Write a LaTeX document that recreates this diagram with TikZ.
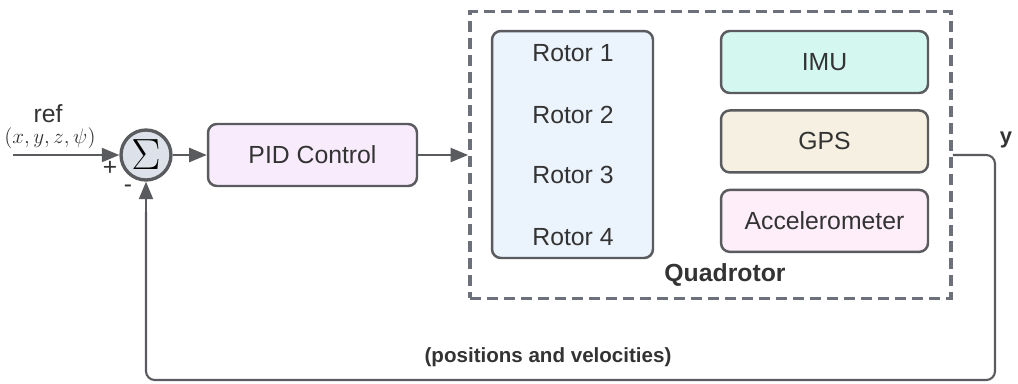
\documentclass[tikz,border=0pt]{standalone}
\usepackage{fontspec}
\setmainfont{Liberation Sans}
\definecolor{lineGray}{HTML}{5A5B5E}
\definecolor{dashGray}{HTML}{6B707A}
\definecolor{txtGray}{HTML}{333333}
\definecolor{pidFill}{HTML}{F8ECFC}
\definecolor{rotorFill}{HTML}{EBF3FD}
\definecolor{imuFill}{HTML}{D4F7EF}
\definecolor{gpsFill}{HTML}{F5F0E1}
\definecolor{accFill}{HTML}{FDEEF9}
\definecolor{sumFill}{HTML}{DDE2EA}
\usetikzlibrary{arrows.meta,positioning,calc}

\begin{document}
\begin{tikzpicture}[x=0.02cm, y=-0.02cm,
  blk/.style={draw=lineGray, line width=1.4pt, rounded corners=5pt, text=txtGray,
               minimum width=4.14cm, minimum height=1.24cm,
               font=\fontsize{14.1}{17}\selectfont},
  lbl/.style={text=txtGray, font=\fontsize{14.1}{17}\selectfont},
  flow/.style={-{Triangle[length=10pt,width=8pt]}, line width=1.2pt, draw=lineGray, fill=lineGray}
]
  \useasboundingbox (0,0) rectangle (1018,383);

  % summing junction and input
  \node[circle, draw=lineGray, line width=1.9pt, fill=sumFill, minimum size=1cm, inner sep=0pt,
        font=\fontsize{30}{30}\selectfont] (sum) at (146,155) {$\Sigma$};
  \coordinate (in) at (13,155);
  \node[lbl] (ref) at (48,114) {ref};
  \node[text=txtGray, font=\fontsize{13}{15}\selectfont] (refvec) at (50,138) {$(x,y,z,\psi)$};
  \node[text=txtGray, font=\fontsize{14}{16}\selectfont] (plus) at (110,168) {+};
  \node[text=txtGray, font=\fontsize{14}{16}\selectfont] (minus) at (128,189) {-};

  % controller
  \node[blk, fill=pidFill, minimum width=4.18cm] (pid) at (312.5,155) {PID Control};

  % plant
  \node[draw=dashGray, line width=2.2pt, dash pattern=on 0.22cm off 0.12cm,
        minimum width=9.62cm, minimum height=5.74cm] (quad) at (710.5,155) {};
  \node[blk, fill=rotorFill, minimum width=3.22cm, minimum height=4.54cm] (rotors) at (572.5,144.5) {};
  \foreach \i/\yy in {1/53, 2/115, 3/175, 4/237}
    \node[lbl] (rotor\i) at (573,\yy) {Rotor \i};
  \node[blk, fill=imuFill] (imu) at (824.5,62) {IMU};
  \node[blk, fill=gpsFill, below=0.3cm of imu] (gps) {GPS};
  \node[blk, fill=accFill, below=0.3cm of gps] (acc) {Accelerometer};
  \node[lbl, font=\fontsize{14.1}{17}\selectfont\bfseries] (quadlbl) at (725,275) {Quadrotor};

  % output and feedback
  \node[text=txtGray, font=\fontsize{12.5}{14}\selectfont\bfseries] (ylbl) at (1006,140) {y};
  \node[text=txtGray, font=\fontsize{11.7}{14}\selectfont\bfseries] (fblbl) at (548,357) {(positions and velocities)};
  \coordinate (outR) at (995,155);
  \coordinate (botR) at (995,380);
  \coordinate (botL) at (146,380);

  \draw[flow] (in) -- (sum);
  \draw[flow] (sum) -- (pid);
  \draw[flow] (pid) -- (quad);
  \draw[line width=1.2pt, draw=lineGray, rounded corners=5pt] (quad.east) -- (outR) -- (botR) -- (botL) -- ($(sum.south)+(0,30)$);
  \draw[flow] ($(sum.south)+(0,31)$) -- (sum.south);
\end{tikzpicture}
\end{document}
